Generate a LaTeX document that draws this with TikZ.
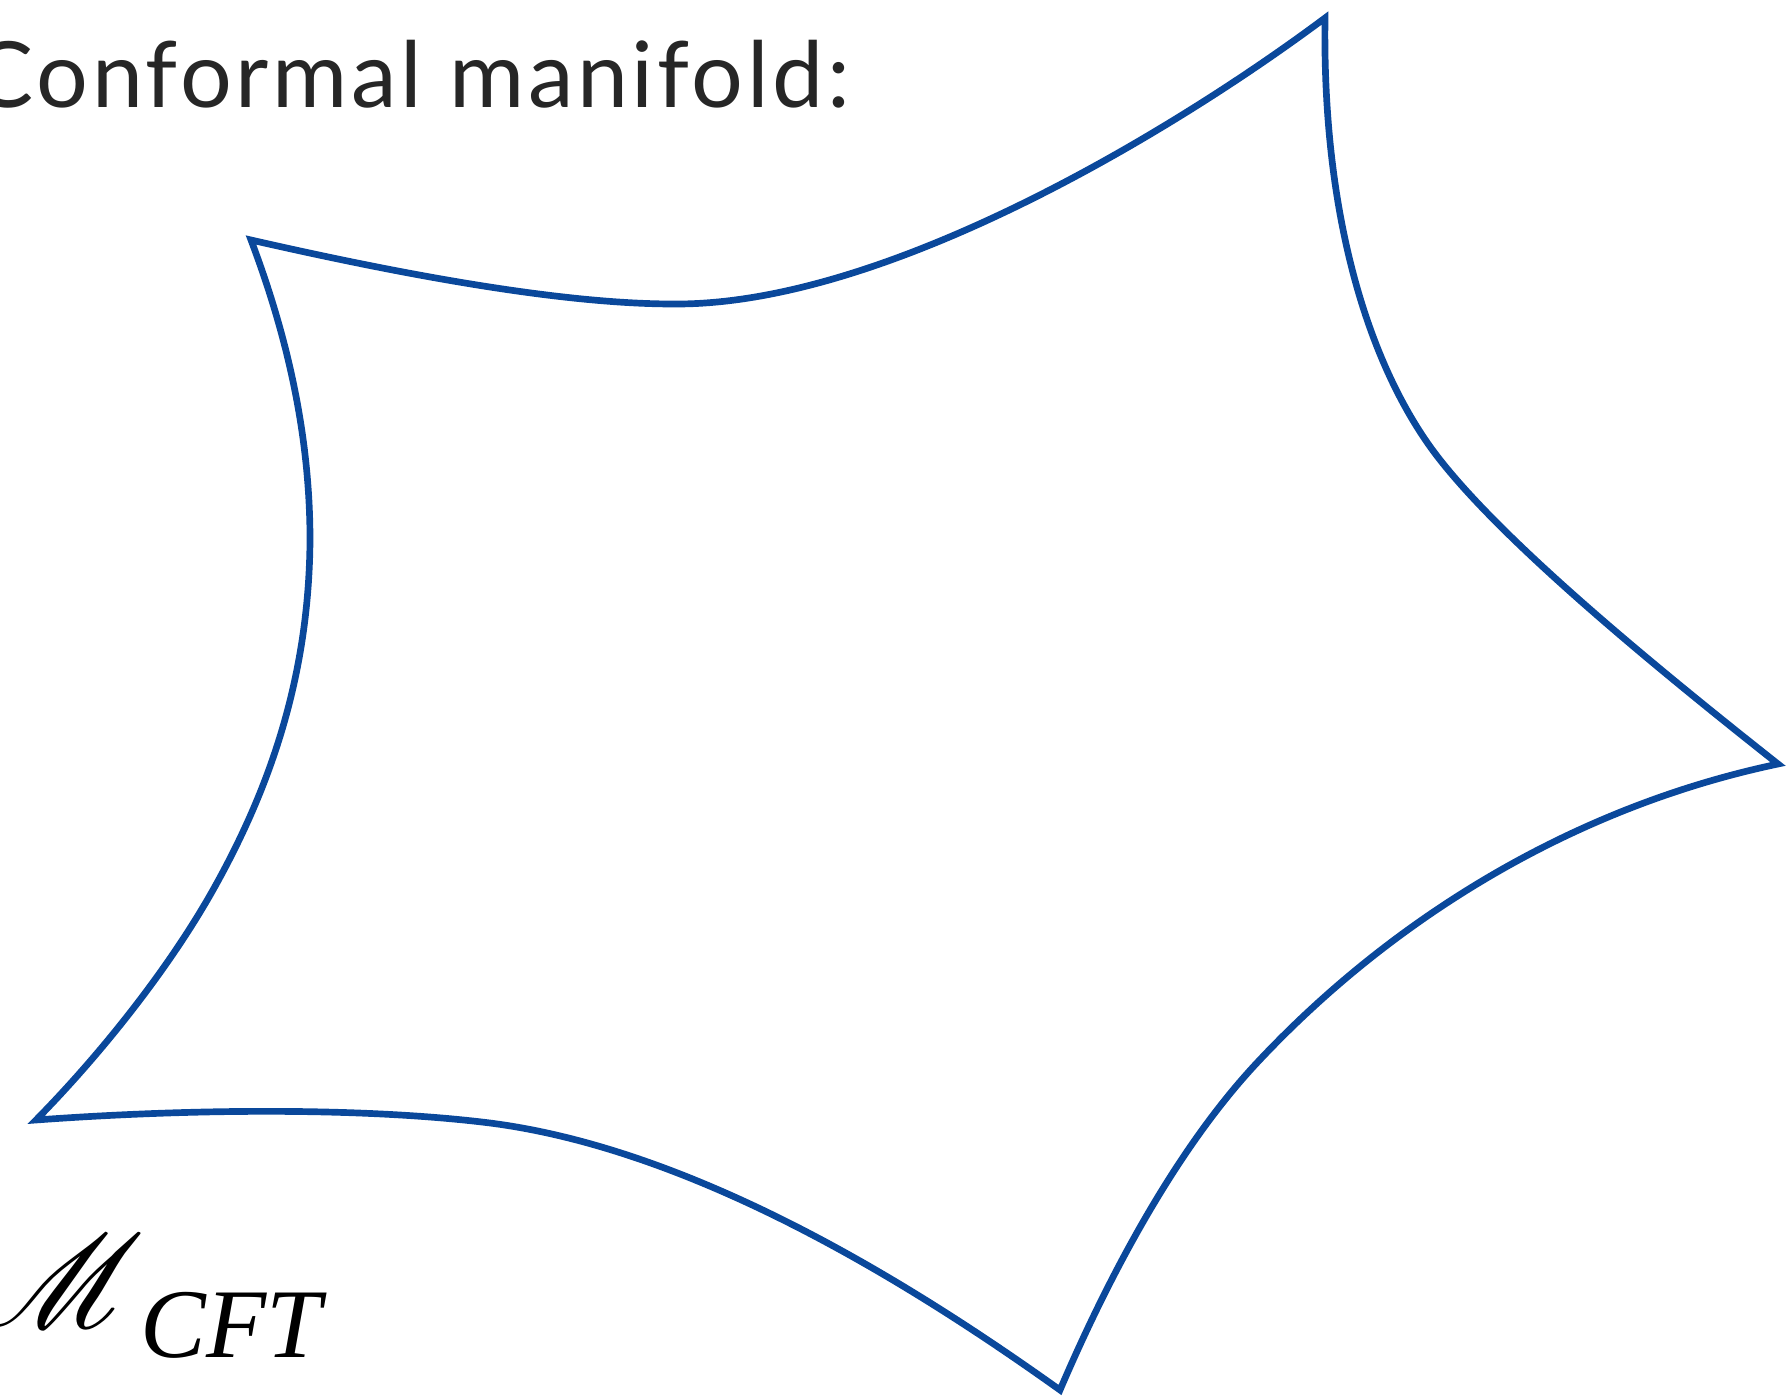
\documentclass[tikz,border=0pt]{standalone}
\usepackage{amsmath}
\usepackage{mathrsfs}
\usepackage{fontspec}
\setmainfont{Lato}
\newfontfamily\timesfont{Liberation Serif}
\usetikzlibrary{positioning}
\definecolor{manifoldblue}{RGB}{10,72,155}

\begin{document}
\begin{tikzpicture}[
    x=0.01cm, y=-0.01cm,
    boundary/.style={draw=manifoldblue, line width=1.9pt, line join=miter},
    heading/.style={anchor=base west, inner sep=0pt, font=\fontsize{26}{30}\selectfont\addfontfeature{LetterSpace=4}, text=black!85},
    scriptlabel/.style={anchor=base west, inner sep=0pt, scale=1.5, font=\fontsize{50}{60}\selectfont},
    sublabel/.style={anchor=base west, inner sep=0pt, font=\fontsize{28}{34}\selectfont\timesfont\itshape}
]
\useasboundingbox (0,0) rectangle (1788,1398);

% Title
\node[heading] (title) at (-28,108) {Conformal manifold:};

% Cusps of the region
\coordinate (tl) at (251,240);
\coordinate (tr) at (1325,18);
\coordinate (rt) at (1778,764);
\coordinate (bt) at (1060,1390);
\coordinate (lf) at (36,1120);

% Boundary
\draw[boundary] (tl)
    .. controls (400,274) and (560,304) .. (673,304)
    .. controls (885,306) and (1175,130) .. (tr)
    .. controls (1322,230) and (1375,375) .. (1437,456)
    .. controls (1500,538) and (1640,655) .. (rt)
    .. controls (1560,810) and (1380,930) .. (1254,1066)
    .. controls (1159,1169) and (1090,1320) .. (bt)
    .. controls (920,1290) and (700,1150) .. (490,1123)
    .. controls (370,1108) and (200,1108) .. (lf)
    .. controls (100,1055) and (168,970) .. (213,890)
    .. controls (268,792) and (309,680) .. (310,540)
    .. controls (310,430) and (285,330) .. cycle;

% Label
\node[scriptlabel] (mscr) at (-20,1326) {$\mathscr{M}$};
\node[sublabel] (cft) at (140,1357) {CFT};
\end{tikzpicture}
\end{document}
